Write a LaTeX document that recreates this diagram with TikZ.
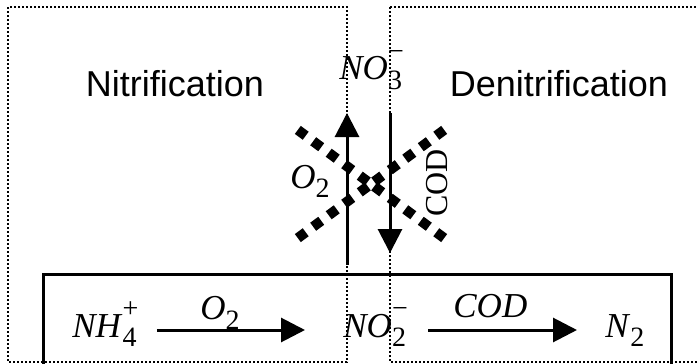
\documentclass[tikz,border=0pt]{standalone}
\usepackage{fontspec}
\setmainfont{Liberation Serif}
\setsansfont{Liberation Sans}
\usetikzlibrary{arrows.meta, calc}

\newcommand{\chem}[3]{\textit{#1}\rlap{\raisebox{0.55em}{\fontsize{14}{14}\selectfont #3}}\raisebox{-0.28em}{\fontsize{14}{14}\selectfont #2}}

\begin{document}
\begin{tikzpicture}[x=0.5pt, y=-0.5pt,
    zone/.style={line width=1pt, dash pattern=on 1pt off 1pt},
    flux/.style={-{Triangle[length=12pt, width=12pt]}, line width=1.5pt},
    blocked/.style={line width=5pt, dash pattern=on 5pt off 4.65pt},
    title/.style={anchor=base, font=\fontsize{18}{22}\selectfont\sffamily},
    species/.style={anchor=base west, inner sep=0pt, font=\fontsize{17.5}{20}\selectfont}]
    \useasboundingbox (0,0) rectangle (698,364);
    \clip (0,0) rectangle (698,364);

    % Zones
    \draw[zone] (8,7) rectangle (347,362);
    \draw[zone] (390,7) rectangle (710,362);
    \draw[line width=1.5pt] (43,274) rectangle (671,380);

    \node[title] (nit) at (175,97) {Nitrification};
    \node[title] (denit) at (559,97) {Denitrification};

    % Species
    \node[species] (no3) at (339,80) {\chem{NO}{3}{−}};
    \node[species] (nh4) at (72,337) {\chem{NH}{4}{+}};
    \node[species] (no2) at (343,337) {\chem{NO}{2}{−}};
    \node[species] (n2) at (605,337) {\chem{N}{2}{}};

    % Bottom reactions
    \draw[flux, shorten <=10pt, shorten >=19pt] ([yshift=3.5pt]nh4.base east) -- ([yshift=3.5pt]no2.base west);
    \draw[flux, shorten <=11pt, shorten >=14pt] ([yshift=3.5pt]no2.base east) -- ([yshift=3.5pt]n2.base west);
    \node[species] (o2r) at (200,320) {\chem{O}{2}{}};
    \node[species] (codr) at (453,317) {\textit{COD}};

    % Blocked exchange
    \coordinate (xc) at (371,184);
    \coordinate (ul) at (302,133);
    \coordinate (ur) at (440,133);
    \coordinate (ll) at (302,235);
    \coordinate (lr) at (440,235);
    \foreach \e in {ul, ur, ll, lr}
        \draw[blocked] ($(xc)!2pt!(\e)$) -- ($(xc)!45.5pt!(\e)$);

    \draw[flux] (347,265) -- (347,113);
    \draw[flux] (390,113) -- (390,253);
    \node[species] (o2l) at (290,188) {\chem{O}{2}{}};
    \node[rotate=90, inner sep=0pt, font=\fontsize{16}{20}\selectfont] (codl) at (437,183) {COD};
\end{tikzpicture}
\end{document}
